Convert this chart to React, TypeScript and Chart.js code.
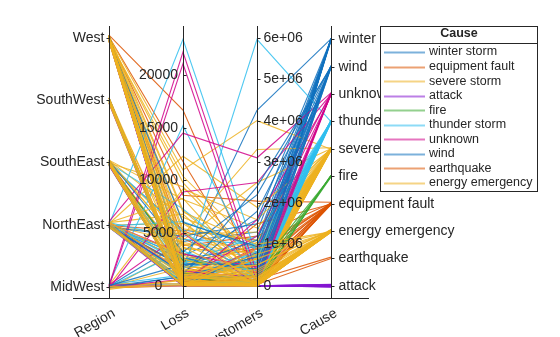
import { useEffect, useRef } from "react";
import { Chart, registerables } from "chart.js";

Chart.register(...registerables);

const W = "West", SW = "SouthWest", SE = "SouthEast", NE = "NorthEast", MW = "MidWest";

// Axis categories, bottom to top
const regions = [MW, NE, SE, SW, W];
const causeAxis = [
  "attack", "earthquake", "energy emergency", "equipment fault", "fire",
  "severe storm", "thunder storm", "unknown", "wind", "winter storm",
];
const axisNames = ["Region", "Loss", "Customers", "Cause"];
const lossTicks = [0, 5000, 10000, 15000, 20000];
const customerTicks = [0, 1e6, 2e6, 3e6, 4e6, 5e6, 6e6];
const customerTickLabels = ["0", "1e+06", "2e+06", "3e+06", "4e+06", "5e+06", "6e+06"];

// Legend (group) order and colours
const legendCauses = [
  "winter storm", "equipment fault", "severe storm", "attack", "fire",
  "thunder storm", "unknown", "wind", "earthquake", "energy emergency",
];
const causeColors = [
  "#1171BE", "#DD5400", "#EDB120", "#8516D1", "#3BAA32",
  "#2FBEEF", "#D1048B", "#1171BE", "#DD5400", "#EDB120",
];

type Row = [string, number, number]; // region, loss, customers

const winterStorm: Row[] = [
  [MW, 180, 420e3], [NE, 1200, 150e3], [SE, 350, 690e3], [NE, 2500, 950e3],
  [W, 90, 60e3], [MW, 4200, 1.3e6], [NE, 1900, 4.25e6], [SE, 5300, 1.1e6],
  [NE, 40, 25e3], [MW, 820, 230e3], [SE, 2100, 560e3], [NE, 3100, 300e3],
  [W, 600, 80e3], [NE, 150, 740e3], [SE, 0, 120e3], [NE, 2800, 1.6e6],
];
const equipmentFault: Row[] = [
  [W, 16700, 150e3], [W, 11800, 60e3], [W, 8600, 2.05e6], [SE, 450, 230e3],
  [NE, 1100, 580e3], [W, 30, 20e3], [SE, 2300, 890e3], [MW, 0, 340e3],
  [NE, 600, 110e3], [W, 3800, 1.2e6], [SE, 140, 45e3], [NE, 5200, 760e3],
  [W, 250, 1.5e6], [SW, 900, 480e3], [W, 70, 650e3], [NE, 1800, 0],
  [SE, 60, 950e3], [W, 4500, 300e3],
];
const severeStorm: Row[] = [
  [W, 11000, 4.0e6], [SE, 4800, 3.3e6], [W, 9800, 600e3], [W, 7200, 250e3],
  [W, 5400, 1.1e6], [W, 3100, 90e3], [W, 600, 40e3], [W, 120, 15e3],
  [W, 1500, 300e3], [SW, 400, 70e3], [SW, 2600, 180e3], [SW, 80, 20e3],
  [SE, 6500, 900e3], [SE, 300, 150e3], [SE, 1200, 480e3], [SE, 50, 30e3],
  [SE, 8200, 1.4e6], [NE, 12300, 1.9e6], [NE, 4100, 750e3], [NE, 700, 210e3],
  [NE, 2200, 520e3], [NE, 90, 60e3], [NE, 5900, 380e3], [MW, 3500, 820e3],
  [MW, 200, 100e3], [MW, 9200, 1.6e6], [MW, 1700, 650e3], [NE, 350, 260e3],
  [SE, 2700, 70e3], [W, 4300, 2.5e6], [NE, 1000, 1.05e6], [SE, 160, 340e3],
  [W, 2000, 130e3], [NE, 6800, 120e3], [SE, 3900, 980e3], [MW, 500, 30e3],
  [W, 10400, 880e3], [NE, 250, 5e3], [W, 3600, 700e3], [SE, 9400, 500e3],
  [NE, 4900, 1.3e6], [SW, 1800, 400e3], [W, 6100, 150e3],
];
const attack: Row[] = [
  [W, 0, 0], [W, 0, 0], [NE, 0, 0], [NE, 0, 0], [MW, 0, 0], [SE, 0, 0],
  [SW, 0, 0], [W, 0, 1200], [NE, 0, 500], [NE, 0, 0], [W, 0, 0], [MW, 0, 0],
  [SE, 0, 0], [W, 0, 0], [NE, 0, 2000],
];
const fire: Row[] = [
  [W, 300, 5e3], [W, 1200, 40e3], [SW, 60, 0], [SE, 2400, 400e3],
  [W, 700, 110e3], [NE, 150, 250e3],
];
const thunderStorm: Row[] = [
  [NE, 23418, 700e3], [SE, 1300, 5.97e6], [MW, 15200, 450e3], [NE, 2100, 1.2e6],
  [SE, 400, 300e3], [NE, 6100, 900e3], [SE, 100, 80e3], [NE, 900, 560e3],
  [MW, 3300, 180e3], [NE, 50, 20e3], [SE, 1700, 750e3], [NE, 4400, 1.0e6],
  [W, 200, 130e3], [SE, 7300, 400e3], [NE, 300, 610e3], [MW, 1000, 50e3],
  [NE, 2600, 360e3], [SE, 5100, 220e3], [NE, 600, 830e3], [SE, 20, 150e3],
];
const unknown: Row[] = [
  [MW, 22200, 300e3], [MW, 21100, 100e3], [MW, 8900, 2.5e6], [NE, 14500, 3.1e6],
  [NE, 3000, 450e3], [MW, 600, 1.2e6], [NE, 1400, 200e3], [SE, 200, 900e3],
  [MW, 5000, 20e3], [NE, 0, 1.6e6],
];
const wind: Row[] = [
  [W, 500, 250e3], [NE, 1800, 1.1e6], [SE, 3200, 2.2e6], [W, 150, 60e3],
  [MW, 900, 700e3], [NE, 4700, 1.5e6], [W, 2600, 400e3], [SE, 80, 30e3],
  [NE, 1200, 1.8e6], [W, 6000, 950e3], [SW, 300, 150e3], [MW, 2000, 520e3],
  [NE, 30, 800e3], [W, 1000, 2.4e6],
];
const earthquake: Row[] = [
  [W, 340, 150e3], [W, 0, 30e3],
];
const energyEmergency: Row[] = [
  [W, 0, 0], [W, 120, 10e3], [W, 450, 30e3], [W, 900, 80e3], [W, 60, 250e3],
  [W, 2600, 40e3], [W, 300, 120e3], [W, 1400, 500e3], [W, 30, 900e3],
  [W, 5100, 60e3], [SW, 0, 0], [SW, 250, 20e3], [SW, 700, 200e3],
  [SW, 1100, 90e3], [SE, 0, 0], [SE, 200, 50e3], [SE, 800, 300e3],
  [SE, 1600, 110e3], [SE, 40, 650e3], [SE, 3700, 20e3], [NE, 0, 0],
  [NE, 150, 70e3], [NE, 500, 400e3], [NE, 1000, 30e3], [NE, 2900, 180e3],
  [MW, 0, 0], [MW, 100, 40e3], [MW, 600, 760e3], [NE, 8300, 150e3],
  [W, 7000, 1.0e6], [SE, 70, 0], [W, 200, 0], [W, 50, 0], [W, 350, 20e3],
  [W, 800, 150e3], [SW, 150, 10e3], [SW, 500, 60e3], [SE, 300, 0],
  [SE, 1100, 200e3], [NE, 80, 0], [NE, 1300, 90e3], [W, 1800, 350e3],
  [SE, 500, 500e3], [W, 4000, 200e3],
];

const rowsByCause: Record<string, Row[]> = {
  "winter storm": winterStorm,
  "equipment fault": equipmentFault,
  "severe storm": severeStorm,
  "attack": attack,
  "fire": fire,
  "thunder storm": thunderStorm,
  "unknown": unknown,
  "wind": wind,
  "earthquake": earthquake,
  "energy emergency": energyEmergency,
};

const FONT = "'Liberation Sans', Arial, Helvetica, sans-serif";
const INK = "#262626";

function rgba(hex: string, a: number) {
  const n = parseInt(hex.slice(1), 16);
  return `rgba(${(n >> 16) & 255},${(n >> 8) & 255},${n & 255},${a})`;
}

const allRows = legendCauses.flatMap((c) => rowsByCause[c]);
const lossMaxData = Math.max(...allRows.map((r) => r[1]));
const lossMinData = Math.min(...allRows.map((r) => r[1]));
const custMaxData = Math.max(...allRows.map((r) => r[2]));
const custMinData = Math.min(...allRows.map((r) => r[2]));
const lossPad = (lossMaxData - lossMinData) * 0.05;
const custPad = (custMaxData - custMinData) * 0.05;
const ranges = [
  [-0.18, regions.length - 1 + 0.18],
  [lossMinData - lossPad, lossMaxData + lossPad],
  [custMinData - custPad, custMaxData + custPad],
  [-0.45, causeAxis.length - 1 + 0.45],
];
const norm = (axis: number, v: number) => (v - ranges[axis][0]) / (ranges[axis][1] - ranges[axis][0]);

function buildDatasets() {
  const ds: any[] = [];
  let k = 0;
  legendCauses.forEach((cause, g) => {
    rowsByCause[cause].forEach(([reg, loss, cust]) => {
      k++;
      const j1 = (((k * 37) % 21) - 10) / 210;
      const j2 = (((k * 53) % 21) - 10) / 210;
      ds.push({
        label: cause,
        data: [
          { x: 0, y: norm(0, regions.indexOf(reg) + j1) },
          { x: 1, y: norm(1, loss) },
          { x: 2, y: norm(2, cust) },
          { x: 3, y: norm(3, causeAxis.indexOf(cause) + j2) },
        ],
        borderColor: rgba(causeColors[g], 0.85),
        borderWidth: 1.1,
        pointRadius: 0,
        tension: 0,
        fill: false,
        order: -g,
      });
    });
  });
  return ds;
}

const axesPlugin = {
  id: "parallelAxes",
  afterDatasetsDraw(chart: any) {
    const { ctx, chartArea, scales } = chart;
    const xs = scales.x, ys = scales.y;
    ctx.save();
    ctx.strokeStyle = INK;
    ctx.fillStyle = INK;
    ctx.lineWidth = 1;
    ctx.font = `14px ${FONT}`;
    ctx.textBaseline = "middle";
    const px = [0, 1, 2, 3].map((i) => Math.round(xs.getPixelForValue(i)) + 0.5);
    px.forEach((p) => {
      ctx.beginPath();
      ctx.moveTo(p, chartArea.top - 1);
      ctx.lineTo(p, chartArea.bottom);
      ctx.stroke();
    });
    const tick = (x0: number, x1: number, y: number) => {
      ctx.beginPath();
      ctx.moveTo(x0, y);
      ctx.lineTo(x1, y);
      ctx.stroke();
    };
    // Region
    ctx.textAlign = "right";
    regions.forEach((r, i) => {
      const y = Math.round(ys.getPixelForValue(norm(0, i))) + 0.5;
      tick(px[0] - 3, px[0], y);
      ctx.fillText(r, px[0] - 5, y);
    });
    // Loss
    ctx.textAlign = "center";
    lossTicks.forEach((v) => {
      const y = Math.round(ys.getPixelForValue(norm(1, v))) + 0.5;
      tick(px[1], px[1] + 3, y);
      ctx.fillText(String(v), px[1] - 25, y);
    });
    // Customers
    ctx.textAlign = "left";
    customerTicks.forEach((v, i) => {
      const y = Math.round(ys.getPixelForValue(norm(2, v))) + 0.5;
      tick(px[2], px[2] + 3, y);
      ctx.fillText(customerTickLabels[i], px[2] + 6, y);
    });
    // Cause
    causeAxis.forEach((c, i) => {
      const y = Math.round(ys.getPixelForValue(norm(3, i))) + 0.5;
      tick(px[3], px[3] + 3, y);
      ctx.fillText(c, px[3] + 7, y);
    });
    ctx.restore();
  },
};

const legendPlugin = {
  id: "causeLegend",
  afterDraw(chart: any) {
    const { ctx } = chart;
    const left = 380.5, right = 537.5, top = 26.5, bottom = 191.5;
    ctx.save();
    ctx.fillStyle = "#ffffff";
    ctx.fillRect(left, top, right - left, bottom - top);
    ctx.strokeStyle = INK;
    ctx.lineWidth = 1;
    ctx.strokeRect(left, top, right - left, bottom - top);
    ctx.beginPath();
    ctx.moveTo(left, 43.5);
    ctx.lineTo(right, 43.5);
    ctx.stroke();
    ctx.fillStyle = INK;
    ctx.textBaseline = "middle";
    ctx.textAlign = "center";
    ctx.font = `bold 12.5px ${FONT}`;
    ctx.fillText("Cause", (left + right) / 2, 34);
    ctx.textAlign = "left";
    ctx.font = `12.5px ${FONT}`;
    legendCauses.forEach((c, i) => {
      const y = 52 + i * 14.55;
      ctx.strokeStyle = rgba(causeColors[i], 0.55);
      ctx.lineWidth = 2;
      ctx.beginPath();
      ctx.moveTo(384, Math.round(y) + 0.5);
      ctx.lineTo(425, Math.round(y) + 0.5);
      ctx.stroke();
      ctx.fillText(c, 429, y);
    });
    ctx.restore();
  },
};

export default function App() {
  const ref = useRef<HTMLCanvasElement | null>(null);
  useEffect(() => {
    if (!ref.current) return;
    const chart = new Chart(ref.current, {
      type: "line",
      data: { datasets: buildDatasets() },
      options: {
        animation: false,
        responsive: false,
        events: [],
        layout: { padding: { left: 73, right: 192, top: 27, bottom: 0 } },
        plugins: { legend: { display: false }, tooltip: { enabled: false } },
        scales: {
          x: {
            type: "linear",
            min: -0.486,
            max: 3.5,
            grid: { display: false, drawTicks: false },
            border: { display: true, color: INK, width: 1 },
            ticks: {
              autoSkip: false,
              minRotation: 30,
              maxRotation: 30,
              padding: 7,
              labelOffset: 5,
              color: INK,
              font: { family: FONT, size: 14 },
              callback: (v: any) => axisNames[v as number] ?? "",
            },
            afterBuildTicks: (s: any) => {
              s.ticks = [0, 1, 2, 3].map((v) => ({ value: v }));
            },
            afterFit: (s: any) => {
              s.height = 39;
            },
          },
          y: { type: "linear", min: 0, max: 1, display: false },
        },
      } as any,
      plugins: [axesPlugin, legendPlugin],
    });
    return () => chart.destroy();
  }, []);
  return (
    <canvas
      ref={ref}
      width={560}
      height={337}
      style={{ position: "fixed", left: 0, top: 0, width: 560, height: 337, display: "block" }}
    />
  );
}
